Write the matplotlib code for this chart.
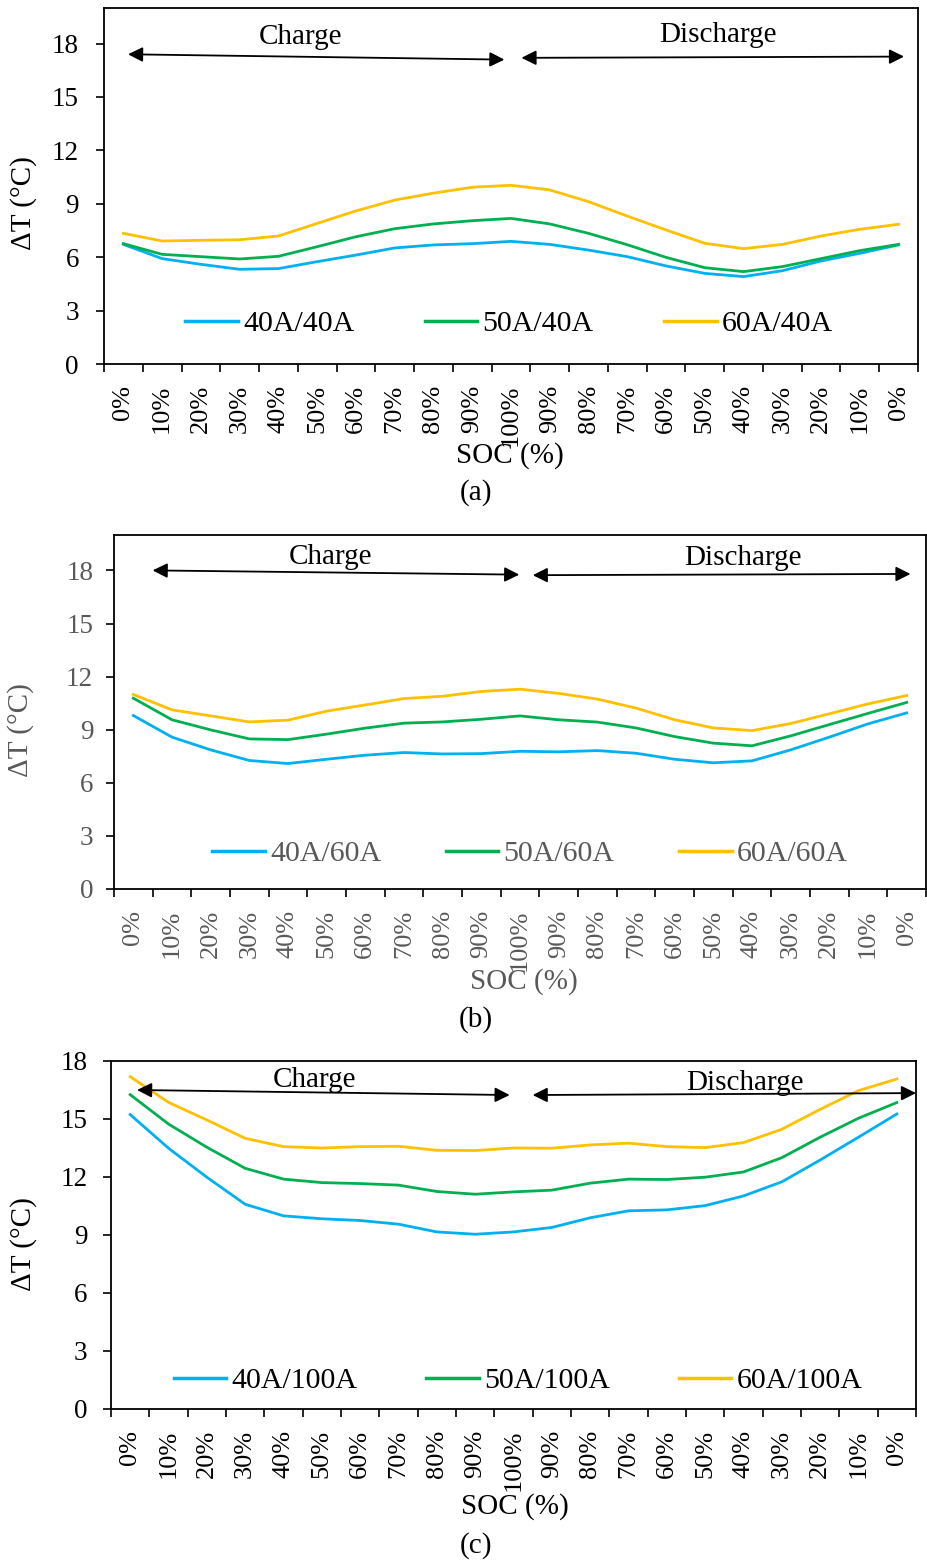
import matplotlib
matplotlib.use("Agg")
import matplotlib.pyplot as plt
import numpy as np

plt.rcParams['font.family'] = ['Liberation Serif', 'DejaVu Serif']

soc_labels = ["0%", "10%", "20%", "30%", "40%", "50%", "60%", "70%", "80%", "90%", "100%",
              "90%", "80%", "70%", "60%", "50%", "40%", "30%", "20%", "10%", "0%"]

# Panel (a)
a_names = ["40A/40A", "50A/40A", "60A/40A"]
a_40 = [6.72, 5.92, 5.60, 5.32, 5.36, 5.75, 6.12, 6.52, 6.69, 6.76, 6.89,
        6.72, 6.40, 6.03, 5.51, 5.09, 4.91, 5.24, 5.79, 6.22, 6.69]
a_50 = [6.76, 6.16, 6.03, 5.90, 6.05, 6.59, 7.15, 7.60, 7.87, 8.05, 8.18,
        7.87, 7.34, 6.70, 5.99, 5.41, 5.19, 5.47, 5.92, 6.37, 6.72]
a_60 = [7.34, 6.91, 6.95, 6.98, 7.19, 7.90, 8.60, 9.21, 9.60, 9.93, 10.04,
        9.78, 9.12, 8.31, 7.53, 6.78, 6.48, 6.72, 7.19, 7.57, 7.85]

# Panel (b)
b_names = ["40A/60A", "50A/60A", "60A/60A"]
b_40 = [9.80, 8.58, 7.86, 7.26, 7.09, 7.33, 7.56, 7.71, 7.63, 7.65, 7.78,
        7.75, 7.82, 7.67, 7.33, 7.13, 7.24, 7.86, 8.58, 9.33, 9.95]
b_50 = [10.78, 9.56, 8.99, 8.48, 8.44, 8.75, 9.09, 9.37, 9.44, 9.59, 9.78,
        9.56, 9.43, 9.10, 8.61, 8.24, 8.09, 8.65, 9.29, 9.92, 10.54]
b_60 = [10.99, 10.12, 9.78, 9.44, 9.54, 10.05, 10.40, 10.76, 10.89, 11.16, 11.29,
        11.05, 10.73, 10.22, 9.56, 9.10, 8.95, 9.35, 9.90, 10.46, 10.93]

# Panel (c)
c_names = ["40A/100A", "50A/100A", "60A/100A"]
c_40 = [15.23, 13.49, 11.99, 10.59, 9.99, 9.84, 9.75, 9.56, 9.16, 9.04, 9.16,
        9.39, 9.89, 10.25, 10.30, 10.52, 11.02, 11.75, 12.88, 14.06, 15.26]
c_50 = [16.26, 14.74, 13.54, 12.45, 11.89, 11.71, 11.66, 11.58, 11.25, 11.11, 11.23,
        11.32, 11.68, 11.89, 11.87, 11.99, 12.26, 13.00, 14.06, 15.04, 15.85]
c_60 = [17.19, 15.86, 14.95, 14.00, 13.57, 13.50, 13.57, 13.59, 13.38, 13.37, 13.50,
        13.49, 13.66, 13.75, 13.57, 13.52, 13.78, 14.47, 15.50, 16.47, 17.07]

colors = ["#00B0F0", "#00B050", "#FFC000"]
y_ticks = [0, 3, 6, 9, 12, 15, 18]

W, H = 927, 1562
fig = plt.figure(figsize=(W / 100, H / 100), dpi=100)


def fx(x):
    return x / W


def fy(y):
    return 1 - y / H


def make_panel(box, series, names, ymax, txtcol, panel_label, arrows, texts,
               leg_center, ylab_pos, soc_pos, lab_pos, ypad, colsp):
    l, r, t, b = box
    ax = fig.add_axes([fx(l), fy(b), (r - l) / W, (b - t) / H])
    x = np.arange(len(soc_labels))
    for vals, name, c in zip(series, names, colors):
        ax.plot(x, vals, color=c, lw=2.0, label=name, solid_joinstyle='round')
    ax.set_xlim(-0.5, len(soc_labels) - 0.5)
    ax.set_ylim(0, ymax)
    ax.set_yticks(y_ticks)
    ax.set_xticks(x)
    ax.set_xticklabels(soc_labels, rotation=90, fontsize=19, color=txtcol)
    ax.set_xticks(np.arange(-0.5, len(soc_labels)), minor=True)
    ax.tick_params(axis='x', which='major', length=0, pad=15)
    ax.tick_params(axis='x', which='minor', length=6, width=1.2, direction='out')
    ax.tick_params(axis='y', which='major', length=6, width=1.2, direction='out',
                   labelsize=19.5, pad=ypad, labelcolor=txtcol)
    for s in ax.spines.values():
        s.set_color('black')
        s.set_linewidth(1.3)
    for (x0, y0, x1, y1) in arrows:
        ax.annotate("", xy=(x1, y1), xytext=(x0, y0), xycoords='data',
                    arrowprops=dict(arrowstyle='<|-|>', color='black', lw=1.3,
                                    mutation_scale=22, shrinkA=0, shrinkB=0))
    for (tx, ty, s) in texts:
        fig.text(fx(tx), fy(ty), s, fontsize=21, ha='center', va='center', color='black')
    leg = ax.legend(loc='center', bbox_to_anchor=(fx(leg_center[0]), fy(leg_center[1])),
                    bbox_transform=fig.transFigure, ncol=3, frameon=False,
                    fontsize=21.5, handlelength=1.77, handletextpad=0.17,
                    columnspacing=colsp, borderpad=0, borderaxespad=0)
    for t_ in leg.get_texts():
        t_.set_color(txtcol)
    for h in leg.get_lines():
        h.set_linewidth(2.5)
    fig.text(fx(ylab_pos[0]), fy(ylab_pos[1]), "ΔT (°C)", rotation=90, fontsize=21,
             ha='center', va='center', color=txtcol)
    fig.text(fx(soc_pos[0]), fy(soc_pos[1]), "SOC (%)", fontsize=21, ha='center',
             va='center', color=txtcol)
    fig.text(fx(lab_pos[0]), fy(lab_pos[1]), panel_label, fontsize=21, ha='center',
             va='center', color='black')
    return ax


make_panel((104, 918, 8, 364), [a_40, a_50, a_60], a_names, 20, 'black', "(a)",
           arrows=[(0.12, 17.4, 9.83, 17.1), (10.27, 17.2, 20.14, 17.27)],
           texts=[(300, 37, "Charge"), (718, 35, "Discharge")],
           leg_center=(509, 324), ylab_pos=(24, 203), soc_pos=(510, 456),
           lab_pos=(476, 493), ypad=12, colsp=2.35)

make_panel((114, 926, 535, 889), [b_40, b_50, b_60], b_names, 20, '#595959', "(b)",
           arrows=[(0.5, 18.0, 9.98, 17.76), (10.33, 17.73, 20.1, 17.8)],
           texts=[(330, 557, "Charge"), (743, 558, "Discharge")],
           leg_center=(530, 854), ylab_pos=(21, 730), soc_pos=(524, 982),
           lab_pos=(476, 1020), ypad=9, colsp=2.15)

make_panel((111, 916, 1061, 1409), [c_40, c_50, c_60], c_names, 18, 'black', "(c)",
           arrows=[(0.18, 16.5, 9.9, 16.24), (10.5, 16.24, 20.5, 16.34)],
           texts=[(315, 1080, "Charge"), (745, 1083, "Discharge")],
           leg_center=(518, 1381), ylab_pos=(24, 1244), soc_pos=(515, 1507),
           lab_pos=(476, 1546), ypad=11, colsp=2.3)

fig.savefig("out.png", dpi=100)
